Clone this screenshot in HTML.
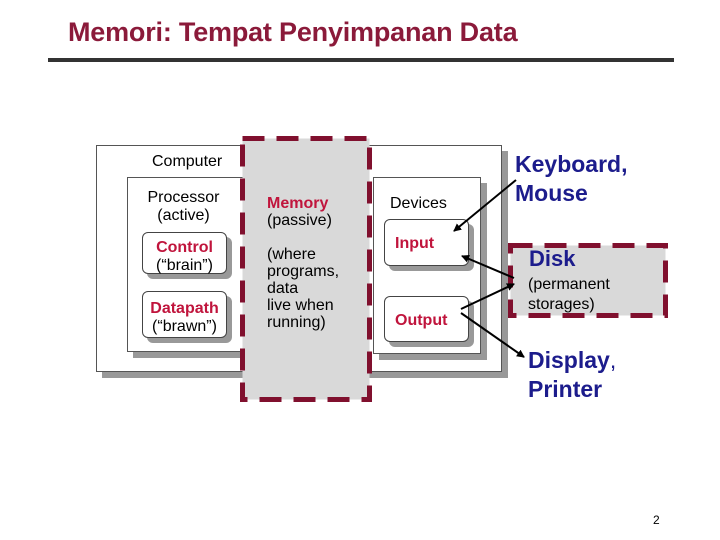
<!DOCTYPE html>
<html><head><style>
body{margin:0;width:720px;height:540px;background:#fff;position:relative;font-family:"Liberation Sans",Arial,sans-serif;overflow:hidden}
.a{position:absolute}
.box{position:absolute;background:#fff;border:1px solid #555;box-shadow:6px 6px 0 #999}
.rb{position:absolute;background:#fff;border:1px solid #444;border-radius:6px;box-shadow:5px 5px 0 #999;text-align:center;font-size:16px;line-height:18px}
.red{color:#c0143c;font-weight:bold}
.blue{color:#1c1c8c;font-weight:bold}
</style></head><body>
<div class="a" style="left:68px;top:17px;font-size:27px;font-weight:bold;color:#8b1a3a;letter-spacing:-0.2px">Memori: Tempat Penyimpanan Data</div>
<div class="a" style="left:48px;top:58px;width:626px;height:4px;background:#333"></div>

<div class="box" style="left:96px;top:145px;width:404px;height:225px"></div>
<div class="a" style="left:152px;top:153px;font-size:16px">Computer</div>
<div class="box" style="left:127px;top:177px;width:130px;height:173px"></div>
<div class="a" style="left:131px;top:189px;width:105px;text-align:center;font-size:16px;line-height:18px">Processor<br>(active)</div>
<div class="rb" style="left:142px;top:232px;width:85px;height:42px;padding-top:6px;box-sizing:border-box"><span class="red">Control</span><br>(“brain”)</div>
<div class="rb" style="left:142px;top:291px;width:85px;height:47px;padding-top:8px;box-sizing:border-box"><span class="red">Datapath</span><br>(“brawn”)</div>

<svg class="a" style="left:0;top:0" width="720" height="540">
<rect x="242.5" y="138.5" width="127" height="261" fill="#d9d9d9" stroke="#80102e" stroke-width="5" stroke-dasharray="22 12"/>
</svg>
<div class="a" style="left:267px;top:195px;font-size:16px;line-height:17px"><span class="red">Memory</span><br>(passive)<br><br>(where<br>programs,<br>data<br>live when<br>running)</div>

<div class="box" style="left:373px;top:177px;width:106px;height:175px"></div>
<div class="a" style="left:390px;top:195px;font-size:16px">Devices</div>
<div class="rb" style="left:384px;top:219px;width:85px;height:47px;text-align:left;padding:15px 0 0 10px;box-sizing:border-box"><span class="red">Input</span></div>
<div class="rb" style="left:384px;top:296px;width:85px;height:46px;text-align:left;padding:15px 0 0 10px;box-sizing:border-box"><span class="red">Output</span></div>

<svg class="a" style="left:0;top:0" width="720" height="540">
<rect x="510.5" y="245.5" width="155" height="70" fill="#d9d9d9" stroke="#80102e" stroke-width="5" stroke-dasharray="22 12"/>
</svg>
<div class="a blue" style="left:529px;top:246px;font-size:22px">Disk</div>
<div class="a" style="left:528px;top:275px;font-size:16px;line-height:20px">(permanent<br>storages)</div>
<div class="a blue" style="left:515px;top:150px;font-size:23px;line-height:29px">Keyboard,<br>Mouse</div>
<div class="a blue" style="left:528px;top:346px;font-size:23px;line-height:29px">Display<span style="font-weight:normal">,</span><br>Printer</div>

<svg class="a" style="left:0;top:0" width="720" height="540">
<defs><marker id="m" markerWidth="8" markerHeight="8" refX="7" refY="4" orient="auto" markerUnits="userSpaceOnUse"><path d="M0,0L8,4L0,8z" fill="#000"/></marker></defs>
<g stroke="#000" stroke-width="2" marker-end="url(#m)">
<line x1="516" y1="180" x2="454" y2="231"/>
<line x1="514" y1="278" x2="462" y2="256"/>
<line x1="461" y1="309" x2="514" y2="284"/>
<line x1="461" y1="313" x2="524" y2="357"/>
</g></svg>
<div class="a" style="left:653px;top:513px;font-size:12px">2</div>
</body></html>
